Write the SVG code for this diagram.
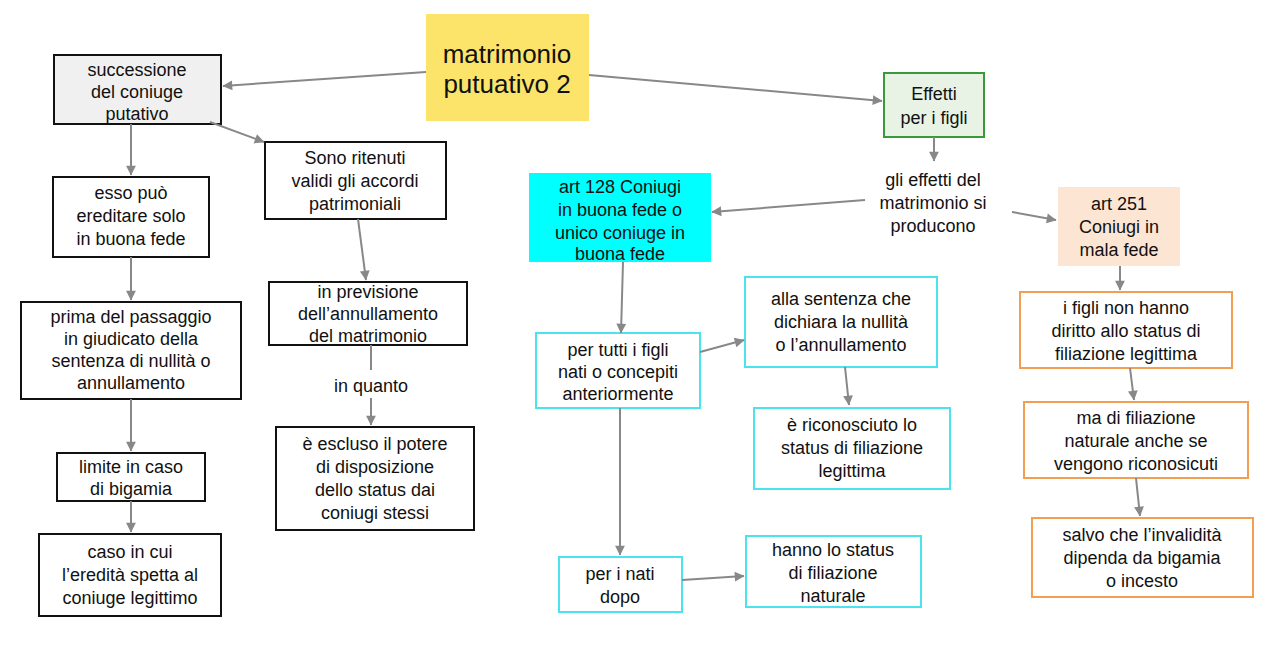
<svg xmlns="http://www.w3.org/2000/svg" width="1280" height="648" viewBox="0 0 1280 648">
<style>
text{font-family:"Liberation Sans",Arial,sans-serif;font-size:18px;fill:#111;text-anchor:middle}
.b{fill:#fff;stroke:#111;stroke-width:2}
.c{fill:#fff;stroke:#4ae3ee;stroke-width:2}
.o{fill:#fff;stroke:#f0a050;stroke-width:2}
.e line{stroke:#888;stroke-width:2;marker-end:url(#a)}
</style>
<defs><marker id="a" viewBox="0 0 10 10" refX="9" refY="5" markerWidth="7" markerHeight="7" orient="auto" markerUnits="userSpaceOnUse" style="overflow:visible"><path d="M0,0L10,5L0,10z" fill="#888" transform="scale(1.4) translate(-3,-1.4)"/></marker></defs>
<rect width="1280" height="648" fill="#fff"/>
<g id="title"><rect x="426" y="14" width="163" height="107" fill="#fce46a"/><text x="507" y="63" style="font-size:26px">matrimonio</text><text x="507" y="93" style="font-size:26px">putuativo 2</text></g>
<g id="succ"><rect x="54" y="55" width="167" height="69" class="b" style="fill:#f0f0f0"/><text x="137" y="76">successione</text><text x="137" y="98">del coniuge</text><text x="137" y="120">putativo</text></g>
<g id="esso"><rect x="53" y="177" width="156" height="80" class="b"/><text x="131" y="199">esso può</text><text x="131" y="222">ereditare solo</text><text x="131" y="245">in buona fede</text></g>
<g id="prima"><rect x="21" y="302" width="220" height="97" class="b"/><text x="131" y="323">prima del passaggio</text><text x="131" y="345">in giudicato della</text><text x="131" y="367">sentenza di nullità o</text><text x="131" y="389">annullamento</text></g>
<g id="limite"><rect x="57" y="453" width="148" height="48" class="b"/><text x="131" y="473">limite in caso</text><text x="131" y="495">di bigamia</text></g>
<g id="caso"><rect x="39" y="534" width="182" height="82" class="b"/><text x="130" y="558">caso in cui</text><text x="130" y="581">l’eredità spetta al</text><text x="130" y="604">coniuge legittimo</text></g>
<g id="sono"><rect x="265" y="142" width="181" height="77" class="b"/><text x="355" y="164">Sono ritenuti</text><text x="355" y="187">validi gli accordi</text><text x="355" y="210">patrimoniali</text></g>
<g id="prev"><rect x="269" y="282" width="198" height="63" class="b"/><text x="368" y="298">in previsione</text><text x="368" y="320">dell’annullamento</text><text x="368" y="342">del matrimonio</text></g>
<g id="inquanto"><text x="371" y="392">in quanto</text></g>
<g id="escluso"><rect x="276" y="427" width="198" height="103" class="b"/><text x="375" y="450">è escluso il potere</text><text x="375" y="473">di disposizione</text><text x="375" y="496">dello status dai</text><text x="375" y="519">coniugi stessi</text></g>
<g id="effetti"><rect x="884" y="73" width="100" height="64" fill="#e8f3e6" stroke="#3a9a3a" stroke-width="2"/><text x="934" y="100">Effetti</text><text x="934" y="124">per i figli</text></g>
<g id="gli"><text x="933" y="186">gli effetti del</text><text x="933" y="209">matrimonio si</text><text x="933" y="232">producono</text></g>
<g id="art128"><rect x="529" y="173" width="182" height="89" fill="#00ffff"/><text x="620" y="193">art 128 Coniugi</text><text x="620" y="216">in buona fede o</text><text x="620" y="239">unico coniuge in</text><text x="620" y="260">buona fede</text></g>
<g id="art251"><rect x="1058" y="187" width="122" height="79" fill="#fde5d3"/><text x="1119" y="210">art 251</text><text x="1119" y="233">Coniugi in</text><text x="1119" y="256">mala fede</text></g>
<g id="pertutti"><rect x="536" y="333" width="164" height="75" class="c"/><text x="618" y="356">per tutti i figli</text><text x="618" y="378">nati o concepiti</text><text x="618" y="400">anteriormente</text></g>
<g id="alla"><rect x="745" y="277" width="192" height="90" class="c"/><text x="841" y="305">alla sentenza che</text><text x="841" y="328">dichiara la nullità</text><text x="841" y="351">o l’annullamento</text></g>
<g id="ricon"><rect x="754" y="408" width="196" height="81" class="c"/><text x="852" y="431">è riconosciuto lo</text><text x="852" y="454">status di filiazione</text><text x="852" y="477">legittima</text></g>
<g id="nati"><rect x="559" y="557" width="123" height="55" class="c"/><text x="620" y="580">per i nati</text><text x="620" y="603">dopo</text></g>
<g id="hanno"><rect x="746" y="536" width="175" height="71" class="c"/><text x="833" y="556">hanno lo status</text><text x="833" y="579">di filiazione</text><text x="833" y="602">naturale</text></g>
<g id="ifigli"><rect x="1020" y="292" width="212" height="76" class="o"/><text x="1126" y="314">i figli non hanno</text><text x="1126" y="337">diritto allo status di</text><text x="1126" y="360">filiazione legittima</text></g>
<g id="ma"><rect x="1024" y="402" width="224" height="76" class="o"/><text x="1136" y="424">ma di filiazione</text><text x="1136" y="447">naturale anche se</text><text x="1136" y="470">vengono riconosicuti</text></g>
<g id="salvo"><rect x="1032" y="518" width="221" height="79" class="o"/><text x="1142" y="541">salvo che l’invalidità</text><text x="1142" y="564">dipenda da bigamia</text><text x="1142" y="587">o incesto</text></g>
<g class="e">
<line x1="426" y1="72" x2="223" y2="86"/>
<line x1="589" y1="75" x2="882" y2="101"/>
<line x1="210" y1="122" x2="264" y2="142"/>
<line x1="131" y1="124" x2="131" y2="175"/>
<line x1="131" y1="257" x2="131" y2="300"/>
<line x1="131" y1="399" x2="131" y2="451"/>
<line x1="131" y1="501" x2="131" y2="532"/>
<line x1="358" y1="219" x2="366" y2="280"/>
<line x1="371" y1="345" x2="371" y2="370" style="marker-end:none"/>
<line x1="371" y1="398" x2="371" y2="425"/>
<line x1="934" y1="137" x2="934" y2="161"/>
<line x1="865" y1="200" x2="712" y2="212"/>
<line x1="1012" y1="212" x2="1056" y2="220"/>
<line x1="623" y1="262" x2="621" y2="333"/>
<line x1="700" y1="352" x2="744" y2="340"/>
<line x1="845" y1="367" x2="849" y2="405"/>
<line x1="620" y1="408" x2="620" y2="555"/>
<line x1="682" y1="580" x2="744" y2="576"/>
<line x1="1120" y1="266" x2="1120" y2="290"/>
<line x1="1130" y1="368" x2="1134" y2="400"/>
<line x1="1136" y1="478" x2="1140" y2="516"/>
</g>
</svg>
